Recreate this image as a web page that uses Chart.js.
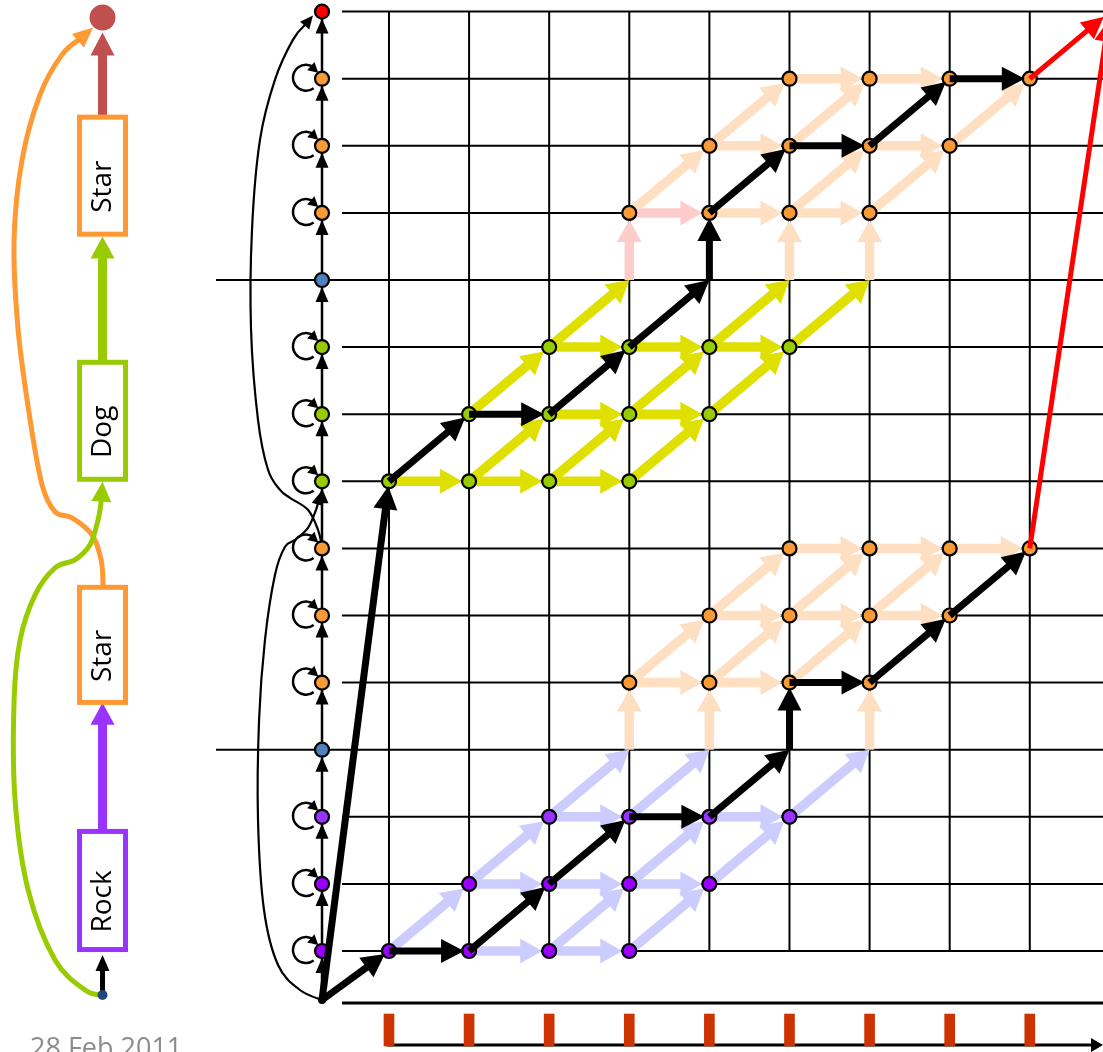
<!DOCTYPE html>
<html lang="en">
<head>
<meta charset="UTF-8">
<meta name="viewport" content="width=device-width, initial-scale=1.0">
<title>Decoding trellis</title>
<script src="https://cdn.jsdelivr.net/npm/chart.js"></script>
<style>
    html, body {
        margin: 0;
        padding: 0;
        background: #fff;
        overflow: hidden;
    }
    #wrap {
        width: 1103px;
        height: 1052px;
    }
</style>
</head>
<body>
<div id="wrap"><canvas id="trellis" width="1103" height="1052"></canvas></div>

<script>
// ---- data: frames (time steps) and the state rows of the composite model ----
const timeSteps = [1, 2, 3, 4, 5, 6, 7, 8, 9];
const stateRows = [1, 2, 3, 4, 5, 6, 7, 8, 9, 10, 11, 12, 13, 14, 15];
const stateColours = ['#9900FF', '#9900FF', '#9933FF', '#4F81BD',
                      '#F79A38', '#F79A38', '#F79A38',
                      '#99CC00', '#99CC00', '#99CC00', '#4F81BD',
                      '#F79A38', '#F79A38', '#F79A38', '#FF0000'];
const loopRows = [1, 2, 3, 5, 6, 7, 8, 9, 10, 12, 13, 14];
const separatorRows = [4, 11];
const axisStep = 0.164;
const startNode = [0.164, 0.27];
const endNode = [10, 15];

// active trellis cells [t, row]
const rockNodes = [[1, 1], [2, 1], [3, 1], [4, 1], [2, 2], [3, 2], [4, 2], [5, 2],
                   [3, 3], [4, 3], [5, 3], [6, 3]];
const dogNodes = [[1, 8], [2, 8], [3, 8], [4, 8], [2, 9], [3, 9], [4, 9], [5, 9],
                  [3, 10], [4, 10], [5, 10], [6, 10]];
const starNodes = [[4, 5], [5, 5], [6, 5], [7, 5], [5, 6], [6, 6], [7, 6], [8, 6],
                   [6, 7], [7, 7], [8, 7], [9, 7],
                   [4, 12], [5, 12], [6, 12], [7, 12], [5, 13], [6, 13], [7, 13], [8, 13],
                   [6, 14], [7, 14], [8, 14], [9, 14]];

// transitions considered [t0, row0, t1, row1]
const rockArcs = [[2, 1, 3, 1], [3, 1, 4, 1],
                  [1, 1, 2, 2], [3, 1, 4, 2], [4, 1, 5, 2],
                  [2, 2, 3, 2], [3, 2, 4, 2], [4, 2, 5, 2],
                  [2, 2, 3, 3], [4, 2, 5, 3], [5, 2, 6, 3],
                  [3, 3, 4, 3], [5, 3, 6, 3],
                  [3, 3, 4, 4], [4, 3, 5, 4], [6, 3, 7, 4]];
const dogArcs = [[1, 8, 2, 8], [2, 8, 3, 8], [3, 8, 4, 8],
                 [2, 8, 3, 9], [3, 8, 4, 9], [4, 8, 5, 9],
                 [3, 9, 4, 9], [4, 9, 5, 9],
                 [2, 9, 3, 10], [4, 9, 5, 10], [5, 9, 6, 10],
                 [3, 10, 4, 10], [4, 10, 5, 10], [5, 10, 6, 10],
                 [3, 10, 4, 11], [5, 10, 6, 11], [6, 10, 7, 11]];
const starArcs = [[4, 4, 4, 5], [5, 4, 5, 5], [7, 4, 7, 5],
                  [4, 5, 5, 5], [5, 5, 6, 5],
                  [4, 5, 5, 6], [5, 5, 6, 6], [6, 5, 7, 6],
                  [5, 6, 6, 6], [6, 6, 7, 6], [7, 6, 8, 6],
                  [5, 6, 6, 7], [6, 6, 7, 7], [7, 6, 8, 7],
                  [6, 7, 7, 7], [7, 7, 8, 7], [8, 7, 9, 7],
                  [6, 11, 6, 12], [7, 11, 7, 12],
                  [5, 12, 6, 12], [6, 12, 7, 12],
                  [4, 12, 5, 13], [6, 12, 7, 13], [7, 12, 8, 13],
                  [5, 13, 6, 13], [7, 13, 8, 13],
                  [5, 13, 6, 14], [6, 13, 7, 14], [8, 13, 9, 14],
                  [6, 14, 7, 14], [7, 14, 8, 14]];
const pinkArcs = [[4, 11, 4, 12], [4, 12, 5, 12]];

// best paths through each word sequence
const bestPathRock = [startNode, [1, 1], [2, 1], [3, 2], [4, 3], [5, 3], [6, 4], [6, 5], [7, 5], [8, 6], [9, 7]];
const bestPathDog = [startNode, [1, 8], [2, 9], [3, 9], [4, 10], [5, 11], [5, 12], [6, 13], [7, 13], [8, 14], [9, 14]];
const exitArcs = [[9, 7], [9, 14]];

// observation frames (floating bars under the trellis)
const frameSpan = [-0.416, 0.061];

// model words on the left
const modelWords = ['Rock', 'Star', 'Dog', 'Star'];
const modelColours = ['#9933FF', '#FF9933', '#99CC00', '#FF9933'];

// ---- layout (in scale units) ----
const gridLeft = 0.413, sepLeft = -1.159, floorRow = 0.225, timeAxisRow = -0.402;
const panelX = -2.576, boxHalf = 0.287;
const boxRows = [[1.022, 2.782], [4.705, 6.420], [8.030, 9.774], [11.683, 13.427]];
const skipIn = [[0.164, 0.269], [-0.111, 0.419], [-0.385, 0.791], [-0.560, 1.611], [-0.635, 2.953],
                [-0.622, 4.444], [-0.548, 5.637], [-0.423, 6.606], [-0.298, 7.024], [-0.173, 7.128],
                [-0.011, 7.307], [0.089, 7.576], [0.151, 7.844]];
const skipOut = [[0.164, 7.024], [0.114, 7.277], [-0.011, 7.575], [-0.236, 7.754], [-0.360, 7.873],
                 [-0.510, 8.172], [-0.635, 8.917], [-0.722, 10.259], [-0.710, 11.750], [-0.610, 13.092],
                 [-0.423, 13.986], [-0.198, 14.583], [0.051, 14.941]];
const orangeCurve = [[-2.569, 6.457], [-2.594, 6.830], [-2.707, 7.203], [-2.956, 7.456], [-3.169, 7.546],
                     [-3.331, 7.948], [-3.480, 8.917], [-3.630, 10.259], [-3.680, 11.601], [-3.580, 12.794],
                     [-3.356, 13.763], [-3.081, 14.359], [-2.694, 14.762]];
const greenCurve = [[-2.582, 0.344], [-2.794, 0.419], [-3.169, 0.866], [-3.505, 1.910], [-3.668, 3.251],
                    [-3.680, 4.742], [-3.605, 5.637], [-3.418, 6.308], [-3.169, 6.710], [-2.919, 6.830],
                    [-2.732, 7.053], [-2.632, 7.426], [-2.590, 7.724], [-2.576, 7.993]];

function arrow(ctx, x1, y1, x2, y2, o) {
    const dx = x2 - x1, dy = y2 - y1, len = Math.hypot(dx, dy);
    const ux = dx / len, uy = dy / len;
    const gap = o.gap || 0;
    const tx = x2 - ux * gap, ty = y2 - uy * gap;
    const bx = tx - ux * o.head, by = ty - uy * o.head;
    ctx.strokeStyle = o.color;
    ctx.fillStyle = o.color;
    ctx.lineWidth = o.width;
    ctx.lineCap = 'butt';
    ctx.beginPath();
    ctx.moveTo(x1, y1);
    ctx.lineTo(bx + ux * 2, by + uy * 2);
    ctx.stroke();
    ctx.beginPath();
    ctx.moveTo(tx, ty);
    ctx.lineTo(bx - uy * o.half, by + ux * o.half);
    ctx.lineTo(bx + uy * o.half, by - ux * o.half);
    ctx.closePath();
    ctx.fill();
}

function head(ctx, tx, ty, ux, uy, len, half) {
    const bx = tx - ux * len, by = ty - uy * len;
    ctx.beginPath();
    ctx.moveTo(tx, ty);
    ctx.lineTo(bx - uy * half, by + ux * half);
    ctx.lineTo(bx + uy * half, by - ux * half);
    ctx.closePath();
    ctx.fill();
}

// smooth curve through points, arrow head at the end
function curve(ctx, pts, color, width, len, half) {
    ctx.strokeStyle = color;
    ctx.fillStyle = color;
    ctx.lineWidth = width;
    ctx.lineCap = 'round';
    const n = pts.length;
    const last = pts[n - 1], prev = pts[n - 2];
    const d = Math.hypot(last[0] - prev[0], last[1] - prev[1]);
    const ux = (last[0] - prev[0]) / d, uy = (last[1] - prev[1]) / d;
    const p = pts.slice();
    p[n - 1] = [last[0] - ux * len * 0.8, last[1] - uy * len * 0.8];
    ctx.beginPath();
    ctx.moveTo(p[0][0], p[0][1]);
    for (let i = 0; i < n - 1; i++) {
        const p0 = p[i - 1] || p[i], p1 = p[i], p2 = p[i + 1], p3 = p[i + 2] || p2;
        ctx.bezierCurveTo(p1[0] + (p2[0] - p0[0]) / 6, p1[1] + (p2[1] - p0[1]) / 6,
                          p2[0] - (p3[0] - p1[0]) / 6, p2[1] - (p3[1] - p1[1]) / 6, p2[0], p2[1]);
    }
    ctx.stroke();
    head(ctx, last[0], last[1], ux, uy, len, half);
}

const trellisPlugin = {
    id: 'trellis',
    beforeDatasetsDraw(chart) {
        const {ctx, scales: {x, y}} = chart;
        const X = v => x.getPixelForValue(v), Y = v => y.getPixelForValue(v);
        const right = X(x.max) + 5;
        ctx.save();

        // grid
        ctx.strokeStyle = '#000';
        ctx.lineWidth = 2;
        ctx.beginPath();
        timeSteps.forEach(t => { ctx.moveTo(X(t), Y(1)); ctx.lineTo(X(t), Y(15)); });
        stateRows.forEach(r => {
            const from = separatorRows.includes(r) ? sepLeft : gridLeft;
            ctx.moveTo(X(from), Y(r)); ctx.lineTo(right, Y(r));
        });
        ctx.stroke();
        ctx.lineWidth = 3;
        ctx.beginPath();
        ctx.moveTo(X(gridLeft), Y(floorRow)); ctx.lineTo(right, Y(floorRow));
        ctx.stroke();
        arrow(ctx, X(1) - 2, Y(timeAxisRow), X(x.max), Y(timeAxisRow),
              {color: '#000', width: 3, head: 12, half: 7});

        // transitions that were considered
        const hasNode = r => !separatorRows.includes(r);
        const drawArcs = (arcs, color) => arcs.forEach(([t0, r0, t1, r1]) => {
            arrow(ctx, X(t0), Y(r0), X(t1), Y(r1),
                  {color, width: 9.5, head: 22, half: 12.5, gap: hasNode(r1) ? 7 : 0});
        });
        drawArcs(rockArcs, '#CCCCFF');
        drawArcs(dogArcs, '#E0E000');
        drawArcs(starArcs, '#FFDFC2');
        drawArcs(pinkArcs, '#FFCCCC');

        // model column: chain of states with self loops
        const ax = X(axisStep);
        ctx.strokeStyle = '#000';
        ctx.fillStyle = '#000';
        ctx.lineWidth = 2.5;
        ctx.beginPath();
        ctx.moveTo(ax, Y(startNode[1])); ctx.lineTo(ax, Y(15));
        ctx.stroke();
        stateRows.forEach(r => head(ctx, ax, Y(r) + 7, 0, -1, 15, 6.5));
        loopRows.forEach(r => {
            const cx = ax - 16, cy = Y(r) - 1, rad = 13;
            const a0 = 0.30 * Math.PI, a1 = 1.72 * Math.PI;
            ctx.beginPath();
            ctx.arc(cx, cy, rad, a0, a1, false);
            ctx.stroke();
            head(ctx, cx + rad * Math.cos(a1) + 4, cy + rad * Math.sin(a1) + 5,
                 0.75, 0.66, 10, 5.5);
        });
        curve(ctx, skipIn.map(([t, r]) => [X(t), Y(r)]), '#000', 2.2, 13, 6);
        curve(ctx, skipOut.map(([t, r]) => [X(t), Y(r)]), '#000', 2.2, 13, 6);
        ctx.restore();
    },
    afterDatasetsDraw(chart) {
        const {ctx, scales: {x, y}} = chart;
        const X = v => x.getPixelForValue(v), Y = v => y.getPixelForValue(v);
        ctx.save();

        // best paths
        [bestPathRock, bestPathDog].forEach(path => {
            for (let i = 0; i < path.length - 1; i++) {
                const [t0, r0] = path[i], [t1, r1] = path[i + 1];
                arrow(ctx, X(t0), Y(r0), X(t1), Y(r1),
                      {color: '#000', width: 7, head: 23, half: 12, gap: separatorRows.includes(r1) ? 0 : 5});
            }
        });
        exitArcs.forEach(([t0, r0]) => {
            arrow(ctx, X(t0), Y(r0), X(endNode[0]), Y(endNode[1]),
                  {color: '#FF0000', width: 5, head: 22, half: 11, gap: 8});
        });

        // model topology panel on the left
        const px = X(panelX);
        curve(ctx, orangeCurve.map(([t, r]) => [X(t), Y(r)]), modelColours[1], 5, 20, 9);
        curve(ctx, greenCurve.map(([t, r]) => [X(t), Y(r)]), modelColours[2], 5, 20, 10);
        arrow(ctx, px, Y(0.40), px, Y(0.94), {color: '#000', width: 5, head: 16, half: 7});
        arrow(ctx, px, Y(boxRows[0][1] + 0.03), px, Y(4.70), {color: modelColours[0], width: 9, head: 22, half: 12});
        arrow(ctx, px, Y(boxRows[2][1] + 0.03), px, Y(11.65), {color: modelColours[2], width: 9, head: 22, half: 12});
        arrow(ctx, px, Y(boxRows[3][1] + 0.03), px, Y(14.69), {color: '#C0504D', width: 9, head: 23, half: 12});
        ctx.fillStyle = '#C0504D';
        ctx.beginPath(); ctx.arc(px, Y(14.911), 13, 0, Math.PI * 2); ctx.fill();
        ctx.fillStyle = '#1F497D';
        ctx.beginPath(); ctx.arc(px, Y(0.344), 5, 0, Math.PI * 2); ctx.fill();

        const bw = X(panelX + boxHalf) - px;
        modelWords.forEach((word, i) => {
            const top = Y(boxRows[i][1]), bottom = Y(boxRows[i][0]);
            ctx.fillStyle = '#fff';
            ctx.fillRect(px - bw, top, bw * 2, bottom - top);
            ctx.strokeStyle = modelColours[i];
            ctx.lineWidth = 5;
            ctx.strokeRect(px - bw, top, bw * 2, bottom - top);
            ctx.save();
            ctx.translate(px + 1, (top + bottom) / 2 + 11);
            ctx.rotate(-Math.PI / 2);
            ctx.fillStyle = '#000';
            ctx.font = '28px "Open Sans"';
            ctx.textAlign = 'center';
            ctx.textBaseline = 'middle';
            ctx.fillText(word, 0, 0);
            ctx.restore();
        });

        ctx.fillStyle = '#8C8C8C';
        ctx.font = '27px "Open Sans"';
        ctx.textAlign = 'left';
        ctx.textBaseline = 'alphabetic';
        ctx.fillText('28 Feb 2011', X(-3.481), Y(-0.585));
        ctx.restore();
    }
};

const trellisNodes = rockNodes.concat(dogNodes, starNodes);

new Chart(document.getElementById('trellis'), {
    type: 'scatter',
    data: {
        datasets: [
            {
                label: 'start',
                data: [{x: startNode[0], y: startNode[1]}],
                pointRadius: 4,
                pointBackgroundColor: '#000',
                pointBorderWidth: 0
            },
            {
                label: 'trellis states',
                data: trellisNodes.map(([t, r]) => ({x: t, y: r})),
                pointRadius: 7,
                pointBorderWidth: 2.2,
                pointBorderColor: '#000',
                pointBackgroundColor: trellisNodes.map(([t, r]) => stateColours[r - 1])
            },
            {
                label: 'model states',
                data: stateRows.map(r => ({x: axisStep, y: r})),
                pointRadius: 7,
                pointBorderWidth: 2.2,
                pointBorderColor: '#000',
                pointBackgroundColor: stateColours
            },
            {
                type: 'bar',
                label: 'frames',
                data: timeSteps.map(t => ({x: t, y: frameSpan})),
                backgroundColor: '#CC3300',
                borderWidth: 0,
                barThickness: 10
            }
        ]
    },
    options: {
        responsive: false,
        animation: false,
        events: [],
        layout: {padding: 0, autoPadding: false},
        plugins: {
            legend: {display: false},
            tooltip: {enabled: false}
        },
        scales: {
            x: {type: 'linear', offset: false, min: -3.856, max: 9.914, display: false},
            y: {type: 'linear', min: -0.505, max: 15.173, display: false}
        }
    },
    plugins: [trellisPlugin]
});
</script>
</body>
</html>
